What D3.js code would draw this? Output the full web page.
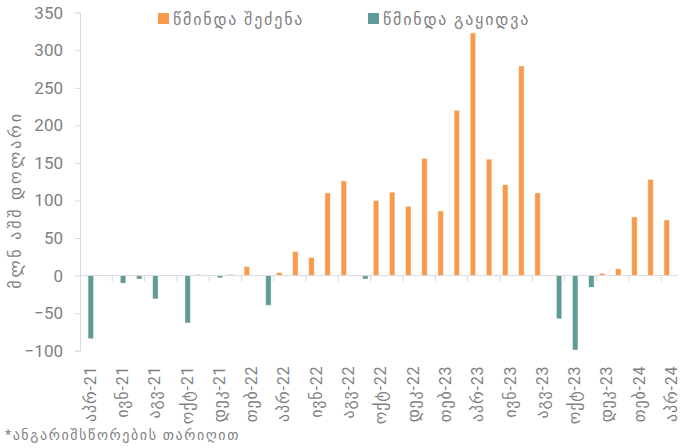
<!DOCTYPE html>
<html>
<head>
<meta charset="utf-8">
<script src="https://cdn.jsdelivr.net/npm/d3@7"></script>
<style>
  html, body { margin: 0; padding: 0; background: #fff; }
  svg text { font-family: Roboto, "DejaVu Sans", sans-serif; fill: #7f7f7f; }
</style>
</head>
<body>
<svg id="chart" width="680" height="448"></svg>
<script>
// Monthly net FX interventions, April 2021 – April 2024 (USD million)
const months = [
  "აპრ-21","მაი-21","ივნ-21","ივლ-21","აგვ-21","სექ-21","ოქტ-21","ნოე-21","დეკ-21",
  "იან-22","თებ-22","მარ-22","აპრ-22","მაი-22","ივნ-22","ივლ-22","აგვ-22","სექ-22","ოქტ-22","ნოე-22","დეკ-22",
  "იან-23","თებ-23","მარ-23","აპრ-23","მაი-23","ივნ-23","ივლ-23","აგვ-23","სექ-23","ოქტ-23","ნოე-23","დეკ-23",
  "იან-24","თებ-24","მარ-24","აპრ-24"
];
// net purchases
const netPurchase = [
  0, 0, 0, 0, 0, 0, 0, 1.5, 0,
  1.5, 12, 0, 4, 32, 24, 110, 126, 0, 100, 111, 92,
  156, 86, 220, 323, 155, 121, 279, 110, 0, 0, 0, 3,
  9, 78, 128, 74
];
// net sales
const netSale = [
  -84, 0, -10, -4.5, -31, 0, -63, 0, -3,
  0, 0, -39.5, 0, 0, 0, 0, 0, -4.5, 0, 0, 0,
  0, 0, 0, 0, 0, 0, 0, 0, -57.5, -99, -15.5, 0,
  0, 0, 0, 0
];
const seriesNames = ["წმინდა შეძენა", "წმინდა გაყიდვა"];
const seriesColors = ["#f79b4b", "#5e9a96"];
const yTicks = [-100, -50, 0, 50, 100, 150, 200, 250, 300, 350];
const yTitle = "მლნ აშშ დოლარი";
const footnote = "*ანგარიშსწორების თარიღით";

const svg = d3.select("#chart");
const plot = { left: 80, right: 677.5, top: 12.7, bottom: 350.7 };

const x = d3.scaleBand().domain(months).range([plot.left, plot.right]).padding(0);
const x1 = d3.scaleBand().domain([0, 1]).range([0, x.bandwidth()])
  .paddingInner(0).paddingOuter(0.5);
const y = d3.scaleLinear().domain([-100, 350]).range([plot.bottom, plot.top]);

// y axis
const yAxis = svg.append("g")
  .attr("transform", `translate(${plot.left},0)`)
  .call(d3.axisLeft(y).tickValues(yTicks).tickSize(5).tickPadding(12).tickFormat(d3.format("d")));
yAxis.select(".domain").attr("stroke", "#d9d9d9");
yAxis.selectAll(".tick line").attr("stroke", "#d9d9d9");
yAxis.selectAll(".tick text").attr("font-size", 17).attr("fill", "#7f7f7f");

// bars
const rows = months.map((m, i) => ({ m, vals: [netPurchase[i], netSale[i]] }));
const groups = svg.append("g").selectAll("g").data(rows).join("g")
  .attr("transform", d => `translate(${x(d.m)},0)`);
groups.selectAll("rect").data(d => d.vals.map((v, k) => ({ v, k })).filter(e => e.v !== 0))
  .join("rect")
  .attr("x", e => x1(e.k))
  .attr("width", x1.bandwidth())
  .attr("y", e => y(Math.max(0, e.v)))
  .attr("height", e => Math.abs(y(e.v) - y(0)))
  .attr("fill", e => seriesColors[e.k])
  .attr("stroke", "rgba(255,255,255,0.45)")
  .attr("stroke-width", 0.8);

// category axis along zero
const xAxisG = svg.append("g").attr("transform", `translate(0,${y(0)})`);
xAxisG.append("line")
  .attr("x1", plot.left).attr("x2", plot.right)
  .attr("stroke", "#d9d9d9").attr("stroke-width", 1);
const tickIdx = d3.range(2, months.length, 2);
xAxisG.selectAll("line.tk").data(tickIdx).join("line")
  .attr("class", "tk")
  .attr("x1", i => x(months[i])).attr("x2", i => x(months[i]))
  .attr("y1", 0).attr("y2", 6)
  .attr("stroke", "#d9d9d9");

// month labels, every second month, rotated
const labelMonths = months.filter((m, i) => i % 2 === 0);
svg.append("g").selectAll("text").data(labelMonths).join("text")
  .attr("transform", m => `translate(${x(m) + x.bandwidth() / 2 + 2},${plot.bottom + 15}) rotate(-90)`)
  .attr("text-anchor", "end")
  .attr("dy", "0.35em")
  .attr("font-size", 16)
  .attr("letter-spacing", 0.8)
  .text(m => m);

// y axis title
svg.append("text")
  .attr("transform", "translate(15,200) rotate(-90)")
  .attr("text-anchor", "middle")
  .attr("dy", "0.35em")
  .attr("font-size", 16)
  .attr("letter-spacing", 2.8)
  .text(yTitle);

// legend
const legendX = [158, 368];
const legend = svg.append("g").selectAll("g").data(seriesNames).join("g")
  .attr("transform", (d, i) => `translate(${legendX[i]},13)`);
legend.append("rect").attr("width", 11).attr("height", 11)
  .attr("fill", (d, i) => seriesColors[i]);
legend.append("text").attr("x", 15).attr("y", 6).attr("dy", "0.35em")
  .attr("font-size", 16).attr("letter-spacing", 1.8).text(d => d);

// footnote
svg.append("text").attr("x", 5).attr("y", 440)
  .attr("font-size", 14).attr("letter-spacing", 1.6).text(footnote);
</script>
</body>
</html>
